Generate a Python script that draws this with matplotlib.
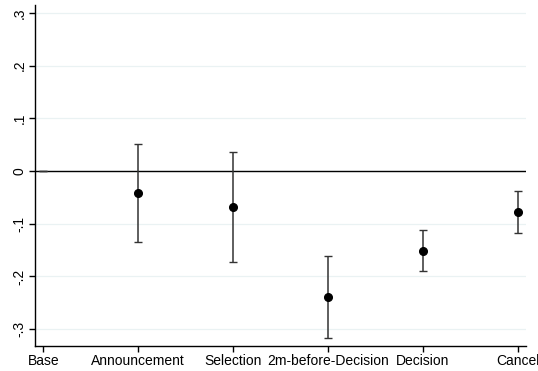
import matplotlib
matplotlib.use('Agg')
import matplotlib.pyplot as plt
import numpy as np

# coefficient estimates and 95% CI
labels = ['Base', 'Announcement', 'Selection', '2m-before-Decision', 'Decision', 'Cancel']
coef = [0.0, -0.042, -0.068, -0.239, -0.151, -0.077]
ci_low = [0.0, -0.135, -0.173, -0.317, -0.190, -0.117]
ci_high = [0.0, 0.051, 0.037, -0.161, -0.111, -0.037]
yticks = [-0.3, -0.2, -0.1, 0.0, 0.1, 0.2, 0.3]
ytick_labels = ['-.3', '-.2', '-.1', '0', '.1', '.2', '.3']

plt.rcParams['font.family'] = ['Liberation Sans', 'DejaVu Sans']

fig = plt.figure(figsize=(5.38, 3.71), dpi=100)
ax = fig.add_axes([0.065, 0.0674, 0.913, 0.919])

x = np.arange(len(labels))
coef = np.array(coef)
lo = coef - np.array(ci_low)
hi = np.array(ci_high) - coef

for yv in yticks:
    ax.axhline(yv, color='#eaf2f3', lw=0.9, zorder=0)
ax.axhline(0, color='black', lw=1.0, zorder=1)

# base level: only the zero-width interval, no point
ax.errorbar(x[:1], coef[:1], yerr=[lo[:1], hi[:1]], fmt='none',
            ecolor='#333333', elinewidth=1.0, capsize=3, capthick=1.0, zorder=2)
ax.errorbar(x[1:], coef[1:], yerr=[lo[1:], hi[1:]], fmt='o', color='black',
            ms=5.5, ecolor='#333333', elinewidth=1.1, capsize=3, capthick=1.0, zorder=3)

ax.set_xlim(-0.088, 5.09)
ax.set_ylim(-0.332, 0.315)
ax.set_xticks(x)
ax.set_xticklabels(labels, fontsize=10)
ax.set_yticks(yticks)
ax.set_yticklabels(ytick_labels, fontsize=10, rotation=90, va='center')

for side in ['top', 'right']:
    ax.spines[side].set_visible(False)
for side in ['left', 'bottom']:
    ax.spines[side].set_linewidth(1.0)
ax.tick_params(axis='both', direction='out', length=4, width=1.0, pad=2)

fig.savefig('out.png', dpi=100)
